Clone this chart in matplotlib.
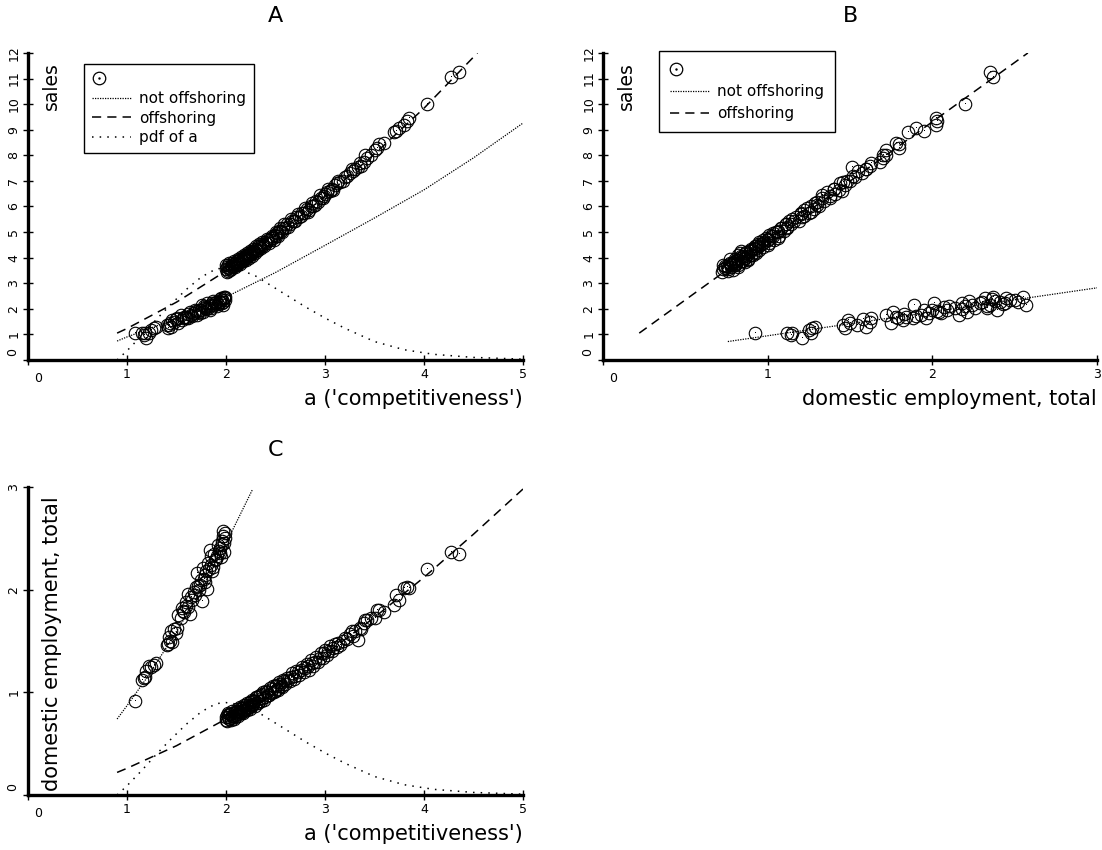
import matplotlib
matplotlib.use("Agg")
import matplotlib.pyplot as plt
from matplotlib.lines import Line2D
from matplotlib.legend_handler import HandlerBase

plt.rcParams['font.family'] = ['DejaVu Sans']

# ---- firms that offshore: a, sales, domestic employment ----
off_a = [2.00, 2.01, 2.02, 2.03, 2.04, 2.05, 2.06, 2.07, 2.08, 2.09, 2.10, 2.11, 2.12, 2.13,
         2.14, 2.15, 2.16, 2.17, 2.18, 2.19, 2.20, 2.21, 2.22, 2.23, 2.24, 2.25, 2.26, 2.27,
         2.28, 2.30, 2.31, 2.33, 2.34, 2.36, 2.37, 2.39, 2.40, 2.42, 2.44, 2.45, 2.47, 2.49,
         2.50, 2.52, 2.54, 2.56, 2.58, 2.60, 2.62, 2.65, 2.67, 2.69, 2.71, 2.74, 2.77, 2.79,
         2.82, 2.84, 2.86, 2.88, 2.91, 2.93, 2.96, 2.98, 3.00, 3.02, 3.05, 3.07, 3.10, 3.12,
         3.15, 3.18, 3.22, 3.25, 3.28, 3.30, 3.33, 3.36, 3.39, 3.42, 3.46, 3.50, 3.53, 3.55,
         3.60, 3.70, 3.72, 3.75, 3.80, 3.83, 3.85, 4.03, 4.27, 4.35,
         2.00, 2.01, 2.02, 2.03, 2.05, 2.06, 2.08, 2.09, 2.11, 2.12, 2.14, 2.15, 2.17, 2.18,
         2.20, 2.21, 2.23, 2.24, 2.26, 2.27, 2.29, 2.30, 2.32, 2.33, 2.35, 2.36, 2.38, 2.41,
         2.43, 2.46, 2.48, 2.51, 2.53, 2.55, 2.57, 2.59, 2.63, 2.66, 2.70, 2.73, 2.76, 2.80,
         2.83, 2.87, 2.90, 2.95, 2.99, 3.03, 3.08, 3.13, 3.20, 3.27, 3.35, 3.40]
off_sales = [3.55, 3.45, 3.70, 3.60, 3.52, 3.68, 3.62, 3.74, 3.66, 3.80, 3.72, 3.85, 3.78, 3.90,
             3.84, 3.94, 3.88, 4.00, 3.96, 4.05, 4.00, 4.10, 4.05, 4.16, 4.10, 4.22, 4.17, 4.26,
             4.22, 4.35, 4.30, 4.44, 4.40, 4.52, 4.48, 4.60, 4.57, 4.70, 4.68, 4.78, 4.77, 4.90,
             4.86, 4.98, 5.05, 5.03, 5.17, 5.15, 5.30, 5.31, 5.45, 5.43, 5.60, 5.58, 5.74, 5.73,
             5.92, 5.88, 6.03, 6.01, 6.20, 6.17, 6.35, 6.33, 6.50, 6.55, 6.62, 6.70, 6.85, 6.90,
             6.95, 6.98, 7.20, 7.30, 7.40, 7.45, 7.55, 7.60, 7.75, 7.90, 8.00, 8.20, 8.30, 8.45,
             8.50, 8.90, 8.95, 9.05, 9.20, 9.35, 9.45, 10.00, 11.05, 11.25,
             3.70, 3.62, 3.48, 3.78, 3.55, 3.80, 3.85, 3.62, 3.70, 3.95, 3.75, 4.02, 3.85, 4.10,
             3.90, 4.18, 4.00, 4.25, 4.08, 4.35, 4.20, 4.45, 4.28, 4.55, 4.38, 4.62, 4.45, 4.72,
             4.58, 4.85, 4.70, 5.00, 4.85, 5.15, 5.00, 5.30, 5.20, 5.50, 5.42, 5.70, 5.62, 5.95,
             5.80, 6.15, 6.05, 6.45, 6.40, 6.70, 6.65, 7.00, 7.15, 7.45, 7.70, 8.00]
off_emp = [0.76, 0.72, 0.80, 0.74, 0.79, 0.75, 0.82, 0.77, 0.74, 0.81, 0.78, 0.84, 0.79, 0.82,
           0.86, 0.80, 0.85, 0.83, 0.88, 0.84, 0.86, 0.90, 0.85, 0.88, 0.91, 0.87, 0.93, 0.89,
           0.92, 0.90, 0.95, 0.92, 0.97, 0.94, 1.00, 0.95, 1.01, 0.97, 1.04, 0.99, 1.06, 1.01,
           1.07, 1.03, 1.10, 1.06, 1.12, 1.08, 1.14, 1.11, 1.19, 1.13, 1.21, 1.17, 1.25, 1.20,
           1.28, 1.22, 1.31, 1.26, 1.34, 1.30, 1.38, 1.33, 1.41, 1.36, 1.45, 1.40, 1.47, 1.44,
           1.46, 1.50, 1.52, 1.57, 1.55, 1.60, 1.51, 1.62, 1.68, 1.70, 1.72, 1.72, 1.80, 1.80,
           1.78, 1.85, 1.95, 1.90, 2.02, 2.03, 2.02, 2.20, 2.37, 2.35,
           0.73, 0.78, 0.76, 0.79, 0.73, 0.77, 0.80, 0.76, 0.82, 0.77, 0.81, 0.85, 0.80, 0.82,
           0.88, 0.83, 0.86, 0.84, 0.88, 0.92, 0.87, 0.95, 0.90, 0.96, 0.92, 0.98, 0.93, 1.00,
           0.97, 1.03, 1.00, 1.06, 1.02, 1.08, 1.05, 1.11, 1.12, 1.15, 1.16, 1.20, 1.22, 1.24,
           1.26, 1.29, 1.30, 1.33, 1.38, 1.40, 1.43, 1.48, 1.53, 1.60, 1.63, 1.70]

# ---- firms that do not offshore ----
not_a = [1.08, 1.15, 1.17, 1.18, 1.19, 1.24, 1.27, 1.29, 1.22, 1.40, 1.41, 1.45, 1.43, 1.42,
         1.44, 1.51, 1.52, 1.64, 1.57, 1.56, 1.60, 1.76, 1.60, 1.65, 1.62, 1.73, 1.81, 1.72,
         1.79, 1.75, 1.79, 1.71, 1.86, 1.77, 1.85, 1.82, 1.89, 1.95, 1.88, 1.98, 1.84, 1.98,
         1.97, 1.97, 1.94, 1.85, 1.90, 1.93, 1.99, 1.68, 1.70, 1.83, 1.92, 1.96,
         1.55, 1.58, 1.62, 1.66, 1.69, 1.74, 1.78, 1.80, 1.87, 1.91, 1.94, 1.96, 1.99, 1.47, 1.49]
not_sales = [1.04, 1.04, 0.98, 1.04, 0.87, 1.17, 1.24, 1.30, 1.04, 1.37, 1.24, 1.56, 1.43, 1.37,
             1.30, 1.63, 1.43, 1.89, 1.63, 1.56, 1.69, 2.15, 1.63, 1.76, 1.63, 1.96, 2.22, 1.89,
             2.09, 1.96, 2.02, 1.76, 2.22, 1.89, 2.15, 2.02, 2.22, 2.41, 2.15, 2.48, 1.96, 2.41,
             2.28, 2.15, 2.28, 2.02, 2.25, 2.32, 2.36, 1.85, 1.92, 2.10, 2.20, 2.34,
             1.75, 1.68, 1.80, 1.72, 1.95, 1.85, 2.12, 1.98, 2.30, 2.12, 2.40, 2.22, 2.45, 1.50, 1.62]
not_emp = [0.92, 1.12, 1.14, 1.15, 1.21, 1.25, 1.27, 1.29, 1.26, 1.46, 1.47, 1.49, 1.50, 1.54,
           1.60, 1.63, 1.75, 1.76, 1.79, 1.82, 1.84, 1.89, 1.88, 1.93, 1.96, 2.00, 2.01, 2.04,
           2.07, 2.09, 2.14, 2.16, 2.18, 2.21, 2.24, 2.26, 2.29, 2.32, 2.35, 2.37, 2.39, 2.45,
           2.52, 2.57, 2.41, 2.33, 2.30, 2.38, 2.50, 1.98, 2.03, 2.20, 2.43, 2.47,
           1.72, 1.78, 1.83, 1.90, 1.95, 2.05, 2.10, 2.18, 2.22, 2.33, 2.36, 2.44, 2.55, 1.62, 1.58]

# ---- fitted curves ----
a_not_line = [0.9, 1.0, 1.5, 2.0, 2.5, 3.0, 3.5, 4.0, 4.5, 5.0]
sales_not_line = [0.74, 0.90, 1.62, 2.46, 3.42, 4.48, 5.55, 6.65, 7.90, 9.26]
a_off_line = [0.9, 1.0, 1.5, 2.0, 2.5, 3.0, 3.5, 4.0, 4.54]
sales_off_line = [1.05, 1.23, 2.26, 3.48, 4.86, 6.39, 8.05, 9.84, 12.0]

emp_not_line_b = [0.758, 3.0]
sales_not_line_b = [0.72, 2.82]
emp_off_line_b = [0.22, 2.58]
sales_off_line_b = [1.05, 12.0]

a_not_line_c = [0.9, 1.0, 1.2, 1.4, 1.6, 1.8, 2.0, 2.27]
emp_not_line_c = [0.74, 0.87, 1.14, 1.44, 1.75, 2.09, 2.45, 2.98]
a_off_line_c = [0.9, 1.0, 1.5, 2.0, 2.5, 3.0, 3.5, 4.0, 4.5, 5.0]
emp_off_line_c = [0.22, 0.26, 0.48, 0.74, 1.04, 1.37, 1.73, 2.12, 2.54, 2.98]

# density of a (in panel C units; panel A shows it x4)
pdf_a = [0.9, 1.0, 1.15, 1.3, 1.45, 1.6, 1.75, 1.9, 2.0, 2.15, 2.3, 2.45, 2.6, 2.8, 3.0,
         3.2, 3.5, 3.8, 4.1, 4.5, 5.0]
pdf_val = [0.0, 0.09, 0.24, 0.40, 0.55, 0.69, 0.81, 0.89, 0.90, 0.88, 0.82, 0.73, 0.64,
           0.52, 0.41, 0.31, 0.18, 0.10, 0.055, 0.025, 0.008]
pdf_scale_a = 4.0

NOT_STYLE = dict(color='black', lw=0.9, ls=(0, (1, 1)))
OFF_STYLE = dict(color='black', lw=1.1, ls=(0, (6, 4)))
PDF_STYLE = dict(color='black', lw=1.1, ls=(0, (1, 4)))


class CircleHandler(HandlerBase):
    def create_artists(self, legend, orig_handle, xdescent, ydescent, width, height,
                       fontsize, trans):
        x = -xdescent + 5
        y = -ydescent + height / 2
        c = Line2D([x], [y], marker='o', mfc='none', mec='black', ms=9, mew=0.9,
                   ls='none', transform=trans)
        d = Line2D([x], [y], marker='.', ms=1.5, color='black', ls='none', transform=trans)
        return [c, d]


def scatter(ax, x, y):
    ax.plot(x, y, 'o', mfc='none', mec='black', ms=9, mew=0.8, zorder=2)
    ax.plot(x, y, ',', color='black', zorder=2)


def style_axes(ax, xmax, ymax, title, xlabel, ylabel, ylabel_size):
    ax.set_xlim(0, xmax)
    ax.set_ylim(0, ymax)
    for s in ['top', 'right']:
        ax.spines[s].set_visible(False)
    for s in ['left', 'bottom']:
        ax.spines[s].set_linewidth(2.4)
    ax.set_xticks(range(0, xmax + 1))
    ax.set_yticks(range(0, ymax + 1))
    ax.set_xticklabels([''] + [str(i) for i in range(1, xmax + 1)])
    ax.set_yticklabels([''] + [str(i) for i in range(1, ymax + 1)],
                       rotation=90, va='center')
    ax.tick_params(direction='inout', length=7, width=1, labelsize=9, pad=2)
    ax.annotate('0', xy=(0, 0), xytext=(7, -13), textcoords='offset points',
                ha='center', va='center', fontsize=9)
    ax.annotate('0', xy=(0, 0), xytext=(-11, 6), textcoords='offset points',
                ha='center', va='center', fontsize=9, rotation=90)
    ax.set_title(title, fontsize=16, pad=22)
    ax.set_xlabel(xlabel, fontsize=15, loc='right', labelpad=6)
    ax.text(0.028, 0.97, ylabel, transform=ax.transAxes, rotation=90,
            ha='left', va='top', fontsize=ylabel_size)


fig = plt.figure(figsize=(11.02, 8.5), dpi=100)
axA = fig.add_axes([0.0254, 0.5765, 0.4492, 0.3612])
axB = fig.add_axes([0.5472, 0.5765, 0.4483, 0.3612])
axC = fig.add_axes([0.0254, 0.0647, 0.4492, 0.3624])

# panel A
scatter(axA, off_a, off_sales)
scatter(axA, not_a, not_sales)
l1, = axA.plot(a_not_line, sales_not_line, **NOT_STYLE)
l2, = axA.plot(a_off_line, sales_off_line, **OFF_STYLE)
l3, = axA.plot(pdf_a, [v * pdf_scale_a for v in pdf_val], **PDF_STYLE)
style_axes(axA, 5, 12, 'A', "a ('competitiveness')", 'sales', 13.5)
axA.legend([object(), l1, l2, l3], ['', 'not offshoring', 'offshoring', 'pdf of a'],
           handler_map={object: CircleHandler()}, loc='upper left',
           bbox_to_anchor=(0.113, 0.964), borderaxespad=0, fontsize=11, frameon=True,
           fancybox=False, edgecolor='black', framealpha=1, handlelength=2.6,
           handletextpad=0.5, labelspacing=0.3, borderpad=0.5)
axA.get_legend().get_frame().set_linewidth(1.0)

# panel B
scatter(axB, off_emp, off_sales)
scatter(axB, not_emp, not_sales)
m1, = axB.plot(emp_not_line_b, sales_not_line_b, **NOT_STYLE)
m2, = axB.plot(emp_off_line_b, sales_off_line_b, **OFF_STYLE)
style_axes(axB, 3, 12, 'B', 'domestic employment, total', 'sales', 13.5)
axB.legend([object(), m1, m2], ['', 'not offshoring', 'offshoring'],
           handler_map={object: CircleHandler()}, loc='upper left',
           bbox_to_anchor=(0.113, 1.005), borderaxespad=0, fontsize=11, frameon=True,
           fancybox=False, edgecolor='black', framealpha=1, handlelength=2.6,
           handletextpad=0.5, labelspacing=0.45, borderpad=0.7)
axB.get_legend().get_frame().set_linewidth(1.0)

# panel C
scatter(axC, off_a, off_emp)
scatter(axC, not_a, not_emp)
axC.plot(a_not_line_c, emp_not_line_c, **NOT_STYLE)
axC.plot(a_off_line_c, emp_off_line_c, **OFF_STYLE)
axC.plot(pdf_a, pdf_val, **PDF_STYLE)
style_axes(axC, 5, 3, 'C', "a ('competitiveness')", 'domestic employment, total', 15)

fig.savefig('out.png', dpi=100, facecolor='white')
